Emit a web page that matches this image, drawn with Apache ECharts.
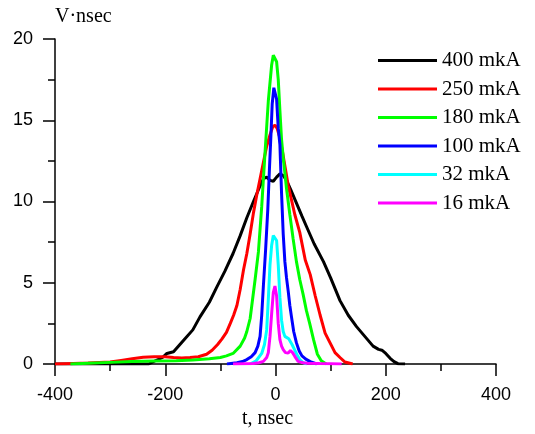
<!DOCTYPE html>
<html>
<head>
<meta charset="utf-8">
<script src="https://cdn.jsdelivr.net/npm/echarts@6/dist/echarts.min.js"></script>
<style>
html,body{margin:0;padding:0;background:#fff;}
#chart{width:535px;height:434px;}
</style>
</head>
<body>
<div id="chart"></div>
<script>
// ---- data (t in nsec, value in V·nsec) ----
var seriesNames = ['400 mkA', '250 mkA', '180 mkA', '100 mkA', '32 mkA', '16 mkA'];
var seriesColors = ['#000000', '#ff0000', '#00ff00', '#0000ff', '#00ffff', '#ff00ff'];

var t400 = [-400, -230, -218, -205, -197, -185, -167, -150, -137, -120, -107, -92, -77, -64, -52, -40, -30, -22, -16, -10, -4, 2, 8, 14, 20, 28, 38, 48, 57, 70, 87, 100, 117, 132, 147, 162, 177, 187, 193, 200, 208, 215, 222, 235];
var v400 = [0, 0, 0.2, 0.4, 0.65, 0.75, 1.45, 2.1, 2.9, 3.8, 4.7, 5.7, 6.8, 7.9, 9.0, 10.0, 10.8, 11.4, 11.5, 11.3, 11.25, 11.5, 11.7, 11.6, 11.3, 10.7, 9.9, 9.1, 8.4, 7.4, 6.3, 5.3, 3.9, 3.0, 2.3, 1.7, 1.1, 0.9, 0.85, 0.65, 0.35, 0.15, 0.02, 0];

var t250 = [-400, -380, -340, -300, -280, -260, -240, -220, -200, -185, -170, -155, -140, -125, -115, -105, -97, -89, -82, -76, -70, -64, -58, -52, -46, -40, -34, -28, -22, -16, -10, -5, -1, 3, 8, 13, 18, 23, 29, 35, 44, 54, 63, 72, 81, 90, 99, 108, 117, 126, 140];
var v250 = [0, 0.02, 0.06, 0.12, 0.22, 0.32, 0.42, 0.45, 0.45, 0.4, 0.37, 0.4, 0.45, 0.6, 0.85, 1.2, 1.55, 1.95, 2.5, 3.0, 3.6, 4.6, 5.8, 6.8, 8.0, 9.3, 10.4, 11.4, 12.4, 13.4, 14.1, 14.6, 14.7, 14.5, 13.9, 13.0, 12.0, 11.0, 10.1, 9.2, 8.1, 6.4, 5.5, 4.2, 3.0, 1.9, 1.3, 0.7, 0.4, 0.12, 0];

var t180 = [-372, -340, -300, -260, -220, -180, -150, -120, -100, -89, -77, -64, -56, -52, -46, -43, -37, -31, -25, -19, -13, -7, -4, -1, 2, 5, 8, 11, 14, 20, 26, 32, 38, 44, 50, 56, 62, 69, 76, 83, 92];
var v180 = [0, 0.05, 0.1, 0.15, 0.18, 0.2, 0.25, 0.32, 0.4, 0.5, 0.65, 1.1, 1.6, 2.0, 2.8, 3.6, 5.2, 6.9, 9.7, 13.0, 16.2, 18.4, 19.0, 19.0, 18.6, 17.5, 15.6, 13.8, 12.7, 10.8, 9.2, 7.7, 6.3, 5.2, 4.3, 3.3, 2.5, 1.5, 0.6, 0.2, 0];

var t100 = [-88, -70, -60, -52, -44, -37, -32, -28, -25, -22, -18, -14, -11, -8, -6, -3, -1, 2, 5, 8, 11, 14, 17, 20, 23, 26, 29, 33, 38, 43, 48, 55, 63, 75];
var v100 = [0, 0.08, 0.15, 0.27, 0.45, 0.7, 1.1, 1.7, 3.0, 4.8, 7.0, 9.5, 12.0, 14.3, 16.0, 17.0, 17.1, 16.3, 14.5, 13.5, 10.5, 8.0, 6.3, 5.3, 4.5, 3.6, 2.9, 2.0, 1.3, 0.8, 0.5, 0.3, 0.15, 0];

var t32 = [-46, -35, -25, -20, -16, -13, -10, -7, -4, -1, 2, 5, 8, 11, 14, 17, 20, 24, 27, 30, 35, 40, 44, 50, 57];
var v32 = [0, 0.2, 0.65, 1.2, 2.1, 4.0, 6.1, 7.3, 7.9, 8.0, 7.6, 6.1, 4.1, 2.7, 2.0, 1.7, 1.6, 1.55, 1.45, 1.2, 0.85, 0.5, 0.27, 0.08, 0];

var t16 = [-77, -40, -30, -22, -16, -13, -10, -7, -4, -1, 2, 5, 8, 11, 14, 18, 23, 27, 31, 35, 41, 50, 57, 80, 120];
var v16 = [0, 0.03, 0.08, 0.16, 0.4, 0.7, 1.7, 3.1, 4.4, 4.8, 4.2, 2.5, 1.5, 1.1, 0.88, 0.7, 0.67, 0.83, 0.7, 0.47, 0.16, 0.08, 0.05, 0.03, 0];

var xTicks = [-400, -200, 0, 200, 400];
var yTicks = [0, 5, 10, 15, 20];

var allT = [t400, t250, t180, t100, t32, t16];
var allV = [v400, v250, v180, v100, v32, v16];

function zip(ts, vs) {
  var out = [];
  for (var i = 0; i < ts.length; i++) out.push([ts[i], vs[i]]);
  return out;
}

var series = seriesNames.map(function (name, i) {
  return {
    name: name,
    type: 'line',
    data: zip(allT[i], allV[i]),
    showSymbol: false,
    symbol: 'none',
    lineStyle: { color: seriesColors[i], width: 3 },
    itemStyle: { color: seriesColors[i] },
    animation: false
  };
});

var chart = echarts.init(document.getElementById('chart'), null, { renderer: 'canvas' });
chart.setOption({
  backgroundColor: '#ffffff',
  animation: false,
  grid: { left: 55, right: 39, top: 39, bottom: 66, containLabel: false },
  legend: {
    orient: 'vertical',
    left: 378,
    top: 50,
    padding: 0,
    data: seriesNames,
    icon: 'rect',
    itemWidth: 59,
    itemHeight: 3,
    itemGap: 7.5,
    textStyle: { fontFamily: 'Liberation Serif', fontSize: 21, color: '#000', lineHeight: 20 }
  },
  xAxis: {
    type: 'value',
    min: xTicks[0],
    max: xTicks[xTicks.length - 1],
    interval: 200,
    name: 't, nsec',
    nameLocation: 'middle',
    nameGap: 45,
    nameTextStyle: { fontFamily: 'Liberation Serif', fontSize: 20, color: '#000', padding: [0, 16, 0, 0] },
    axisLine: { show: true, onZero: false, lineStyle: { color: '#000', width: 1.5 } },
    axisTick: { show: true, inside: false, length: 12, lineStyle: { color: '#000', width: 1.5 } },
    minorTick: { show: true, splitNumber: 2, length: 7, lineStyle: { color: '#000', width: 1.5 } },
    axisLabel: { fontFamily: 'Liberation Sans', fontSize: 18, color: '#000', margin: 22 },
    splitLine: { show: false }
  },
  yAxis: {
    type: 'value',
    min: yTicks[0],
    max: yTicks[yTicks.length - 1],
    interval: 5,
    name: 'V·nsec',
    nameLocation: 'end',
    nameGap: 12,
    nameTextStyle: { fontFamily: 'Liberation Serif', fontSize: 20, color: '#000', align: 'left' },
    axisLine: { show: true, onZero: false, lineStyle: { color: '#000', width: 1.5 } },
    axisTick: { show: true, inside: false, length: 12, lineStyle: { color: '#000', width: 1.5 } },
    minorTick: { show: true, splitNumber: 2, length: 7, lineStyle: { color: '#000', width: 1.5 } },
    axisLabel: { fontFamily: 'Liberation Sans', fontSize: 18, color: '#000', margin: 22 },
    splitLine: { show: false }
  },
  series: series
});
</script>
</body>
</html>
